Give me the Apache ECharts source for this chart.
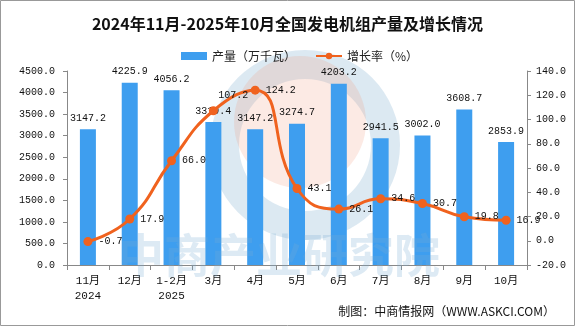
<!DOCTYPE html>
<html><head><meta charset="utf-8">
<script src="https://cdn.jsdelivr.net/npm/echarts@6/dist/echarts.min.js"></script>
<style>html,body{margin:0;padding:0;background:#fff}#c{width:575px;height:326px}</style>
</head><body><div id="c"></div>
<script>
const categories = ['11月\n2024','12月','1-2月\n2025','3月','4月','5月','6月','7月','8月','9月','10月'];
const output = [3147.2, 4225.9, 4056.2, 3319.4, 3147.2, 3274.7, 4203.2, 2941.5, 3002.0, 3608.7, 2853.9];
const growth = [-0.7, 17.9, 66.0, 107.2, 124.2, 43.1, 26.1, 34.6, 30.7, 19.8, 16.9];
const leftTicks = {min: 0, max: 4500, interval: 500};
const rightTicks = {min: -20, max: 140, interval: 20};

const NUM = 'Liberation Mono, Noto Sans CJK SC';
const CJK = 'Noto Sans CJK SC';
const chart = echarts.init(document.getElementById('c'), null, {renderer: 'canvas'});
chart.setOption({
  animation: false,
  backgroundColor: '#fff',
  title: {
    text: '2024年11月-2025年10月全国发电机组产量及增长情况',
    left: 'center', top: 11,
    textStyle: {fontFamily: CJK, fontSize: 16, fontWeight: 'bold', color: '#111'}
  },
  legend: {
    left: 176, top: 45, itemGap: 19, itemWidth: 26, itemHeight: 8,
    textStyle: {fontFamily: CJK, fontSize: 12, color: '#222'},
    data: [{name: '产量（万千瓦）', icon: 'rect'}, {name: '增长率（%）'}]
  },
  grid: {left: 67, right: 48, top: 71, bottom: 61},
  xAxis: {
    type: 'category', data: categories,
    axisLine: {lineStyle: {color: '#888'}},
    axisTick: {show: true, length: 5, lineStyle: {color: '#888'}},
    axisLabel: {fontFamily: NUM, fontSize: 11, color: '#111', margin: 9, lineHeight: 15}
  },
  yAxis: [
    {type: 'value', min: leftTicks.min, max: leftTicks.max, interval: leftTicks.interval,
     splitLine: {show: false},
     axisLine: {show: true, lineStyle: {color: '#888'}},
     axisTick: {show: true, length: 4, lineStyle: {color: '#888'}},
     axisLabel: {fontFamily: NUM, fontSize: 10, color: '#111', margin: 12,
       formatter: v => v.toFixed(1)}},
    {type: 'value', min: rightTicks.min, max: rightTicks.max, interval: rightTicks.interval,
     splitLine: {show: false},
     axisLine: {show: true, lineStyle: {color: '#888'}},
     axisTick: {show: true, length: 4, lineStyle: {color: '#888'}},
     axisLabel: {fontFamily: NUM, fontSize: 10, color: '#111', margin: 9,
       formatter: v => v.toFixed(1)}}
  ],
  graphic: [
    {type: 'ring', z: -10, silent: true, shape: {cx: 305, cy: 145, r: 95, r0: 66},
     style: {fill: 'rgba(120,170,205,0.26)'}},
    {type: 'circle', z: -9, silent: true, shape: {cx: 300, cy: 122, r: 66},
     style: {fill: 'rgba(240,150,120,0.2)'}},
    {type: 'text', z: 100, silent: true, left: 118, top: 232,
     style: {text: '中商产业研究院', fontFamily: CJK, fontSize: 46, fontWeight: 'bold',
       fill: 'rgba(120,170,210,0.25)'}},
    {type: 'text', right: 20, top: 305,
     style: {text: '制图：中商情报网（WWW.ASKCI.COM）', fontFamily: CJK, fontSize: 12, fill: '#111'}},
    {type: 'rect', z: 100, silent: true, shape: {x: 0.5, y: 0.5, width: 574, height: 325},
     style: {fill: 'none', stroke: '#999', lineWidth: 1}}
  ],
  series: [
    {name: '产量（万千瓦）', type: 'bar', yAxisIndex: 0, barWidth: 16,
     data: output, itemStyle: {color: '#3E9EEF'},
     label: {show: true, position: 'top', distance: 6, fontFamily: NUM, fontSize: 10, color: '#111',
       formatter: p => p.value.toFixed(1)}},
    {name: '增长率（%）', type: 'line', yAxisIndex: 1, smooth: 0.5,
     data: growth.map((v, i) => i === 3 ? {value: v, label: {position: 'top', offset: [20, 0]}} : v),
     symbol: 'circle', symbolSize: 9,
     lineStyle: {color: '#F0621E', width: 3}, itemStyle: {color: '#F0621E'},
     label: {show: true, position: 'right', distance: 6, fontFamily: NUM, fontSize: 10, color: '#111',
       formatter: p => p.value.toFixed(1)}}
  ]
});
</script></body></html>
